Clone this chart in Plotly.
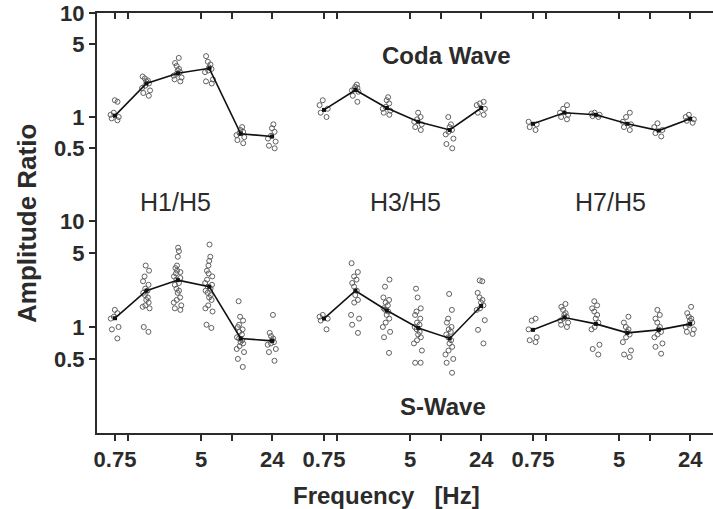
import math
import plotly.graph_objects as go

# ---------------- data ----------------
freqs = [0.75, 1.5, 3, 6, 12, 24]
group_labels = ["H1/H5", "H3/H5", "H7/H5"]
x_tickvals = [0.75, 1, 5, 10, 24]
x_ticktext = ["0.75", "", "5", "", "24"]
y_tickvals = [0.5, 1, 5, 10]
y_ticktext = ["0.5", "1", "5", "10"]

# Coda wave, individual ratios per frequency
coda_h1_pts = [
    [1.45, 1.4, 1.1, 1.05, 1.0, 0.97, 0.93],
    [2.45, 2.35, 2.25, 2.2, 2.1, 2.0, 1.9, 1.8, 1.7, 1.6],
    [3.7, 3.3, 3.1, 2.9, 2.8, 2.7, 2.6, 2.5, 2.4, 2.3, 2.2],
    [3.85, 3.4, 3.2, 3.0, 2.9, 2.8, 2.7, 2.3, 2.2, 2.1],
    [0.8, 0.75, 0.72, 0.7, 0.67, 0.64, 0.6, 0.56],
    [0.85, 0.78, 0.72, 0.66, 0.62, 0.58, 0.53, 0.5],
]
coda_h1_mean = [1.03, 2.1, 2.63, 2.94, 0.69, 0.65]

coda_h3_pts = [
    [1.45, 1.3, 1.2, 1.1, 1.0],
    [2.05, 1.95, 1.9, 1.85, 1.8, 1.75, 1.6, 1.4],
    [1.55, 1.45, 1.35, 1.25, 1.2, 1.15, 1.1, 1.05],
    [1.1, 1.0, 0.95, 0.9, 0.85, 0.8, 0.75],
    [1.0, 0.85, 0.8, 0.75, 0.72, 0.68, 0.62, 0.55, 0.5],
    [1.4, 1.35, 1.3, 1.2, 1.1, 1.05],
]
coda_h3_mean = [1.17, 1.82, 1.22, 0.9, 0.75, 1.22]

coda_h7_pts = [
    [0.9, 0.85, 0.8, 0.75],
    [1.3, 1.2, 1.1, 1.05, 1.0, 0.95],
    [1.1, 1.08, 1.05, 1.02, 1.0],
    [1.1, 1.0, 0.9, 0.85, 0.8, 0.75],
    [0.87, 0.8, 0.75, 0.7, 0.65],
    [1.05, 1.0, 0.95, 0.92, 0.88],
]
coda_h7_mean = [0.86, 1.1, 1.05, 0.86, 0.74, 0.96]

# S-wave, individual ratios per frequency
s_h1_pts = [
    [1.45, 1.35, 1.25, 1.2, 1.0, 0.95, 0.78],
    [3.8, 3.4, 3.0, 2.7, 2.5, 2.3, 2.2, 2.1, 2.0, 1.9, 1.8, 1.7, 1.6, 1.55, 1.5, 1.0, 0.9],
    [5.6, 5.2, 4.6, 3.8, 3.6, 3.4, 3.3, 3.2, 3.0, 2.9, 2.8, 2.6, 2.5, 2.3, 2.2, 2.1,
     1.9, 1.8, 1.7, 1.6, 1.5, 1.45],
    [6.0, 4.6, 4.2, 3.8, 3.4, 3.2, 3.0, 2.8, 2.6, 2.5, 2.4, 2.3, 2.2, 2.1, 2.0, 1.9,
     1.8, 1.6, 1.5, 1.4, 1.05, 0.98],
    [1.75, 1.25, 1.15, 1.05, 1.0, 0.95, 0.9, 0.85, 0.8, 0.78, 0.75, 0.72, 0.7, 0.66,
     0.62, 0.58, 0.5, 0.42],
    [1.3, 0.88, 0.82, 0.78, 0.75, 0.72, 0.7, 0.68, 0.62, 0.58, 0.48],
]
s_h1_mean = [1.21, 2.2, 2.77, 2.4, 0.78, 0.74]

s_h3_pts = [
    [1.3, 1.25, 1.2, 1.15, 0.95],
    [4.0, 3.3, 3.0, 2.8, 2.6, 2.4, 2.2, 2.0, 1.8, 1.7, 1.3, 1.2, 1.05, 0.88],
    [2.8, 2.4, 1.9, 1.8, 1.7, 1.6, 1.5, 1.45, 1.4, 1.3, 1.2, 1.1, 1.0, 0.9, 0.8, 0.57],
    [2.3, 1.9, 1.5, 1.4, 1.3, 1.2, 1.1, 1.05, 1.0, 0.95, 0.9, 0.85, 0.8, 0.75, 0.7,
     0.6, 0.46, 0.46],
    [2.05, 1.45, 1.2, 1.1, 1.0, 0.95, 0.9, 0.85, 0.8, 0.75, 0.7, 0.65, 0.6, 0.55, 0.5,
     0.46, 0.37],
    [2.75, 2.7, 2.1, 1.9, 1.8, 1.7, 1.6, 1.5, 1.45, 1.16, 0.94, 0.7],
]
s_h3_mean = [1.2, 2.2, 1.43, 0.98, 0.78, 1.58]

s_h7_pts = [
    [1.2, 1.15, 0.95, 0.8, 0.75, 0.72],
    [1.65, 1.55, 1.45, 1.35, 1.3, 1.25, 1.2, 1.15, 1.1, 1.05, 1.0],
    [1.75, 1.6, 1.5, 1.4, 1.3, 1.2, 1.1, 1.0, 0.95, 0.68, 0.62, 0.55],
    [1.25, 1.1, 1.0, 0.95, 0.9, 0.85, 0.8, 0.72, 0.6, 0.55, 0.52],
    [1.45, 1.3, 1.2, 1.1, 1.0, 0.95, 0.9, 0.85, 0.8, 0.7, 0.65, 0.56],
    [1.55, 1.35, 1.25, 1.2, 1.15, 1.1, 1.05, 1.0, 0.95, 0.9, 0.86],
]
s_h7_mean = [0.94, 1.23, 1.07, 0.88, 0.94, 1.07]

panels = [
    [(coda_h1_pts, coda_h1_mean), (coda_h3_pts, coda_h3_mean), (coda_h7_pts, coda_h7_mean)],
    [(s_h1_pts, s_h1_mean), (s_h3_pts, s_h3_mean), (s_h7_pts, s_h7_mean)],
]

# ---------------- layout geometry ----------------
W, H = 713, 509
ML, MR, MT, MB = 97, 0, 13, 76
PW = W - ML - MR
PH = H - MT - MB
split_px = 208  # height of top panel in px
split = 1 - split_px / PH
px_per_dec = 104.4
col_px = [(0, 209), (209, 418), (418, PW)]
offset_px = 18  # distance of 0.75 Hz from left edge of each block

ink = "#2b2b2b"
font_family = "Liberation Sans, Arial, Helvetica, sans-serif"

fig = go.Figure()

for r, row in enumerate(panels):
    yref = "y" if r == 0 else "y2"
    for c, (pts, mean) in enumerate(row):
        xi = c + 1 + 3 * r
        xref = "x" if xi == 1 else f"x{xi}"
        for f, vals in zip(freqs, pts):
            fig.add_trace(go.Box(
                x=[f] * len(vals), y=vals, xaxis=xref, yaxis=yref,
                boxpoints="all", jitter=1.0, pointpos=0, width=0.22 * f,
                fillcolor="rgba(0,0,0,0)", line=dict(width=0, color="rgba(0,0,0,0)"),
                whiskerwidth=0,
                marker=dict(symbol="circle-open", size=5, color="#606060",
                            line=dict(width=1, color="#606060")),
                showlegend=False, hoverinfo="skip",
            ))
        fig.add_trace(go.Scatter(
            x=freqs, y=mean, xaxis=xref, yaxis=yref, mode="lines+markers",
            line=dict(color="#111111", width=1.6),
            marker=dict(color="#111111", size=4, symbol="square"),
            showlegend=False, hoverinfo="skip",
        ))

axes = {}
lo = math.log10(0.75) - offset_px / px_per_dec
for r in range(2):
    for c in range(3):
        xi = c + 1 + 3 * r
        a, b = col_px[c]
        rng = [lo, lo + (b - a) / px_per_dec]
        key = "xaxis" if xi == 1 else f"xaxis{xi}"
        common = dict(
            type="log", domain=[a / PW, b / PW], range=rng, automargin=False,
            tickvals=x_tickvals, showgrid=False, zeroline=False,
            showline=True, linewidth=2, linecolor=ink,
            tickcolor=ink, tickwidth=1.5, ticklen=6,
        )
        if r == 0:
            common.update(anchor="y", side="top", ticks="inside", showticklabels=False)
        else:
            common.update(anchor="y2", side="bottom", ticks="outside",
                          ticktext=x_ticktext,
                          tickfont=dict(family=font_family, size=22, color=ink, weight="bold"))
        axes[key] = common

ycommon = dict(
    type="log", range=[-1, 1], tickvals=y_tickvals, ticktext=y_ticktext,
    showgrid=False, zeroline=False, showline=True, linewidth=2, linecolor=ink,
    ticks="outside", tickcolor=ink, tickwidth=1.5, ticklen=6, automargin=False,
    tickfont=dict(family=font_family, size=22, color=ink, weight="bold"),
)
axes["yaxis"] = dict(ycommon, domain=[split, 1], anchor="x")
axes["yaxis2"] = dict(ycommon, domain=[0, split], anchor="x4")


def px_to_paper(xp, yp):
    return (xp - ML) / PW, (H - MB - yp) / PH


annotations = []


def add_text(text, xp, yp, size, bold, angle=0):
    xx, yy = px_to_paper(xp, yp)
    annotations.append(dict(
        text=text, x=xx, y=yy, xref="paper", yref="paper", showarrow=False,
        xanchor="center", yanchor="middle", textangle=angle,
        font=dict(family=font_family, size=size, color=ink,
                  weight="bold" if bold else "normal"),
    ))


add_text("Coda Wave", 446, 56, 24, True)
add_text("S-Wave", 443, 406, 24, True)
add_text(group_labels[0], 175, 202, 25, False)
add_text(group_labels[1], 405, 202, 25, False)
add_text(group_labels[2], 610, 202, 25, False)
add_text("Amplitude Ratio", 27, 224, 26, True, angle=-90)
add_text("Frequency\u00a0\u00a0\u00a0[Hz]", 386, 496, 24, True)

fig.update_layout(
    width=W, height=H,
    margin=dict(l=ML, r=MR, t=MT, b=MB, pad=0, autoexpand=False),
    paper_bgcolor="white", plot_bgcolor="white",
    boxmode="overlay",
    annotations=annotations,
    **axes,
)

fig.write_html(
    "out.html",
    config={"displayModeBar": False},
    post_script="document.body.style.margin='0';document.body.style.overflow='hidden';",
)
